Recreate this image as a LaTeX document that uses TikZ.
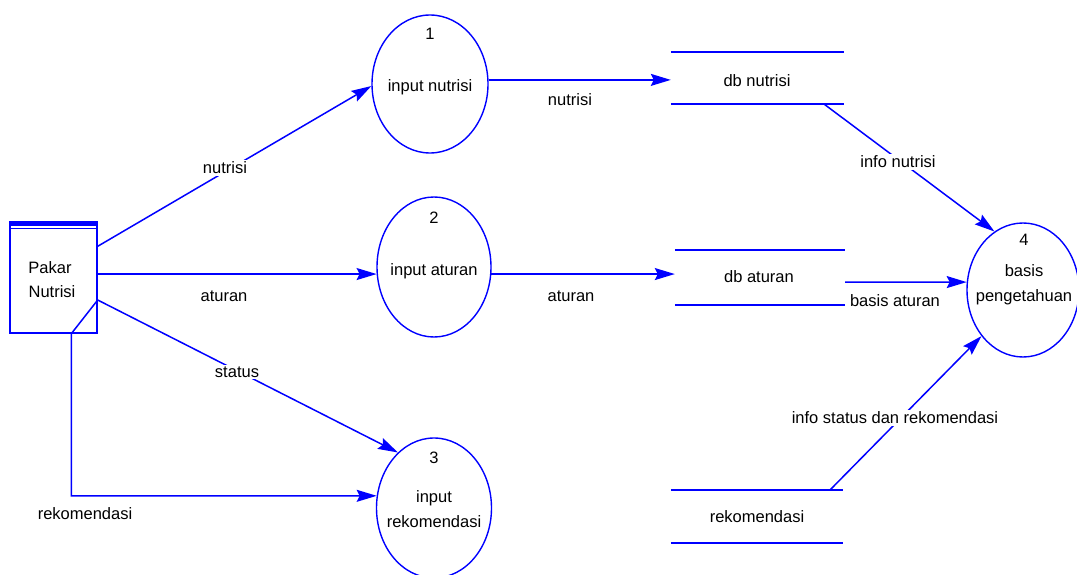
\documentclass[tikz,border=0pt]{standalone}
\usepackage{fontspec}
\setmainfont{Liberation Sans}
\usetikzlibrary{arrows.meta,calc,shapes.geometric}
\definecolor{dfdblue}{RGB}{0,0,255}
\begin{document}
\begin{tikzpicture}[x=1pt,y=-1pt,
  every node/.style={font=\fontsize{16.5}{19}\selectfont, inner sep=1pt},
  proc/.style={draw=dfdblue, line width=1.4pt, ellipse, inner sep=0pt},
  store/.style={draw=none, inner sep=0pt},
  entity/.style={draw=dfdblue, line width=1.4pt, inner sep=0pt, minimum width=87pt, minimum height=111pt},
  flow/.style={draw=dfdblue, line width=1.5pt, -{Stealth[length=20pt,width=12pt,inset=3pt]}},
  line/.style={draw=dfdblue, line width=1.5pt},
  lbl/.style={fill=white, inner sep=2pt},
  txt/.style={inner sep=0pt}]
\useasboundingbox (0,0) rectangle (1077,575);

% external entity
\node[entity] (pakar) at (53.5,277.5) {};
\fill[dfdblue] (pakar.north west) rectangle ($(pakar.north east)+(0,5)$);
\draw[line, line width=1pt] ($(pakar.north west)+(0,7)$) -- ($(pakar.north east)+(0,7)$);
\node[txt] (pakarA) at (50,268) {Pakar};
\node[txt] (pakarB) at (52,292) {Nutrisi};

% processes
\node[proc, minimum width=116pt, minimum height=138pt] (e1) at (430,84) {};
\node[txt] (e1n) at (430,34) {1};
\node[txt] (e1t) at (430,87) {input nutrisi};

\node[proc, minimum width=114pt, minimum height=140pt] (e2) at (434,267) {};
\node[txt] (e2n) at (434,218) {2};
\node[txt] (e2t) at (434,271) {input aturan};

\node[proc, minimum width=115pt, minimum height=140pt] (e3) at (434,508) {};
\node[txt] (e3n) at (434,458) {3};
\node[txt] (e3a) at (434,498) {input};
\node[txt] (e3b) at (434,522) {rekomendasi};

\node[proc, minimum width=112pt, minimum height=134pt] (e4) at (1023,290) {};
\node[txt] (e4n) at (1024,240) {4};
\node[txt] (e4a) at (1024,271) {basis};
\node[txt] (e4b) at (1024,297) {pengetahuan};

% data stores
\node[store, minimum width=173pt, minimum height=52pt] (s1) at (757.5,78) {};
\node[store, minimum width=170pt, minimum height=55pt] (s2) at (760,277.5) {};
\node[store, minimum width=172pt, minimum height=53pt] (s3) at (757,516.5) {};
\foreach \s in {s1,s2,s3} {
  \draw[line] (\s.north west) -- (\s.north east);
  \draw[line] (\s.south west) -- (\s.south east);
}
\node[txt] (s1t) at (757,81) {db nutrisi};
\node[txt] (s2t) at (759,277) {db aturan};
\node[txt] (s3t) at (757,517) {rekomendasi};

% flows leaving the entity
\coordinate (pk1) at ($(pakar.north east)+(0,25)$);
\coordinate (pk3) at ($(pakar.east)+(0,22.5)$);
\draw[flow] (pk1) -- (e1.182);
\draw[flow] (e2.187 -| pakar.east) -- (e2.187);
\draw[flow] (pk3) -- (e3.123);
\draw[flow] (pk3) -- ($(pakar.south west)+(62,0)$) |- (e3.168);

% flows into the stores
\draw[flow] (e1.4) -- (e1.4 -| s1.west);
\draw[flow] (e2.-7) -- (e2.-7 -| s2.west);

% flows into process 4
\draw[flow] ($(s1.south east)+(-20,0)$) -- (e4.116);
\draw[flow] ($(s2.east)+(0,4.5)$) -- (e4.172);
\draw[flow] ($(s3.north east)+(-13,0)$) -- (e4.228);

% flow labels
\node[lbl] (l1) at (225,168) {nutrisi};
\node[txt] (l2) at (224,296) {aturan};
\node[lbl] (l3) at (237,372) {status};
\node[txt] (l4) at (85,514) {rekomendasi};
\node[txt] (l5) at (570,100) {nutrisi};
\node[txt] (l6) at (571,296) {aturan};
\node[lbl] (l7) at (898,162) {info nutrisi};
\node[txt] (l8) at (895,301) {basis aturan};
\node[lbl] (l9) at (895,418) {info status dan rekomendasi};
\end{tikzpicture}
\end{document}
